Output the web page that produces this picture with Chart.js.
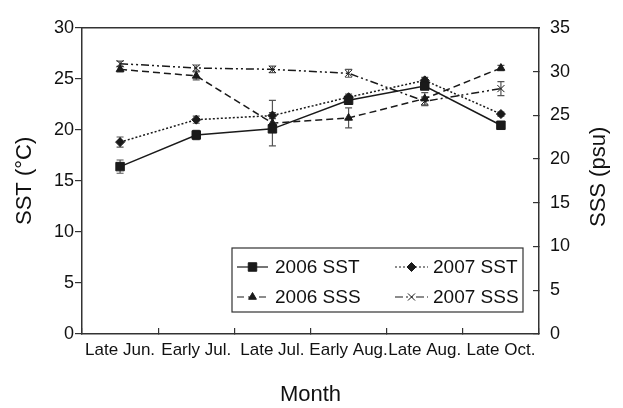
<!DOCTYPE html>
<html><head><meta charset="utf-8">
<script src="https://cdn.jsdelivr.net/npm/chart.js@4"></script>
<style>html,body{margin:0;padding:0;background:#fff}#wrap{width:623px;height:408px;position:relative}</style>
</head><body><div id="wrap"><canvas id="c"></canvas></div>
<script>
// ---- data ----
const months = ['Late Jun.', 'Early Jul.', 'Late Jul.', 'Early Aug.', 'Late Aug.', 'Late Oct.'];
const sst2006 = [16.4, 19.5, 20.1, 22.9, 24.3, 20.45];
const sst2006Err = [0.65, 0.45, 0.3, 0.35, 0.3, 0.2];
const sst2007 = [18.8, 21.0, 21.4, 23.2, 24.85, 21.55];
const sst2007Err = [0.5, 0.35, 0.3, 0.3, 0.3, 0.2];
const sss2006 = [30.25, 29.5, 24.1, 24.7, 26.9, 30.4];
const sss2006Err = [0.3, 0.45, 2.6, 1.15, 0.7, 0.3];
const sss2007 = [30.9, 30.4, 30.25, 29.8, 26.6, 28.05];
const sss2007Err = [0.3, 0.35, 0.37, 0.45, 0.5, 0.8];
const seriesNames = ['2006 SST', '2007 SST', '2006 SSS', '2007 SSS'];
const sstRange = [0, 30];
const sssRange = [0, 35];
const tickStep = 5;
const xTitle = 'Month';
const yTitle = 'SST (°C)';
const y2Title = 'SSS (psu)';

const FONT = "'Liberation Sans', Arial, Helvetica, sans-serif";
const INK = '#1a1a1a';

const errorBars = {
  id: 'errorBars',
  beforeDatasetsDraw(chart) {
    const ctx = chart.ctx;
    chart.data.datasets.forEach((ds, i) => {
      const meta = chart.getDatasetMeta(i);
      const ys = chart.scales[ds.yAxisID];
      ctx.save();
      ctx.strokeStyle = '#555';
      ctx.lineWidth = 1.2;
      meta.data.forEach((pt, j) => {
        const v = ds.data[j], e = ds.errors[j];
        const x = pt.x;
        const y1 = ys.getPixelForValue(v - e), y2 = ys.getPixelForValue(v + e);
        ctx.beginPath();
        ctx.moveTo(x, y1); ctx.lineTo(x, y2);
        ctx.moveTo(x - 3.5, y1); ctx.lineTo(x + 3.5, y1);
        ctx.moveTo(x - 3.5, y2); ctx.lineTo(x + 3.5, y2);
        ctx.stroke();
      });
      ctx.restore();
    });
  }
};

function marker(ctx, ds, x, y) {
  ctx.save();
  ctx.fillStyle = ds.pointBackgroundColor;
  ctx.strokeStyle = ds.pointBorderColor;
  ctx.lineWidth = ds.pointBorderWidth;
  ctx.setLineDash([]);
  Chart.helpers.drawPoint(ctx, {pointStyle: ds.pointStyle, radius: ds.pointRadius, rotation: 0, borderWidth: ds.pointBorderWidth}, x, y);
  ctx.restore();
}

const boxLegend = {
  id: 'boxLegend',
  afterDraw(chart) {
    const {ctx, chartArea: a} = chart;
    const L = a.left + 150, R = a.right - 16, T = a.bottom - 86, B = a.bottom - 22;
    ctx.save();
    ctx.fillStyle = '#fff';
    ctx.fillRect(L, T, R - L, B - T);
    ctx.strokeStyle = '#333';
    ctx.lineWidth = 1.2;
    ctx.strokeRect(L, T, R - L, B - T);
    const cols = [[L + 5, L + 36, L + 43], [L + 163, L + 196, L + 201]];
    const rows = [T + 19, T + 49];
    chart.data.datasets.forEach((ds, i) => {
      const c = cols[i % 2], y = rows[Math.floor(i / 2)];
      ctx.save();
      ctx.strokeStyle = ds.borderColor;
      ctx.lineWidth = 1.2;
      ctx.setLineDash(ds.borderDash || []);
      ctx.beginPath(); ctx.moveTo(c[0], y); ctx.lineTo(c[1], y); ctx.stroke();
      ctx.restore();
      marker(ctx, ds, (c[0] + c[1]) / 2, y);
      ctx.fillStyle = '#111';
      ctx.font = '19px ' + FONT;
      ctx.textAlign = 'left';
      ctx.textBaseline = 'middle';
      ctx.fillText(ds.label, c[2], y + 1);
    });
    // right axis title, reading bottom-to-top
    const s = chart.scales.y2;
    ctx.save();
    ctx.translate(s.right - 24, (a.top + a.bottom) / 2 - 4);
    ctx.rotate(-Math.PI / 2);
    ctx.fillStyle = '#111';
    ctx.font = '22px ' + FONT;
    ctx.textAlign = 'center';
    ctx.textBaseline = 'middle';
    ctx.fillText(y2Title, 0, 0);
    ctx.restore();
    ctx.restore();
  }
};

const common = {borderColor: INK, borderWidth: 1.5, pointBackgroundColor: INK, pointBorderColor: INK, pointBorderWidth: 1, tension: 0, fill: false};

new Chart(document.getElementById('c'), {
  type: 'line',
  data: {
    labels: months,
    datasets: [
      Object.assign({label: seriesNames[0], data: sst2006, errors: sst2006Err, yAxisID: 'y', pointStyle: 'rect', pointRadius: 6, borderDash: []}, common),
      Object.assign({label: seriesNames[1], data: sst2007, errors: sst2007Err, yAxisID: 'y', pointStyle: 'rectRot', pointRadius: 4.5, borderDash: [2, 2]}, common),
      Object.assign({label: seriesNames[2], data: sss2006, errors: sss2006Err, yAxisID: 'y2', pointStyle: 'triangle', pointRadius: 4.5, borderDash: [7, 4]}, common),
      Object.assign({label: seriesNames[3], data: sss2007, errors: sss2007Err, yAxisID: 'y2', pointStyle: 'crossRot', pointRadius: 5, borderDash: [8, 3, 2, 3, 2, 3]}, common)
    ]
  },
  options: {
    responsive: true,
    maintainAspectRatio: false,
    animation: false,
    events: [],
    layout: {padding: {top: 15, left: 0, right: 0, bottom: 0}},
    plugins: {legend: {display: false}, tooltip: {enabled: false}},
    scales: {
      x: {
        type: 'category', position: 'bottom', offset: true,
        grid: {offset: true, drawOnChartArea: false, drawTicks: true, tickLength: -6, color: '#333', lineWidth: 1.2},
        border: {display: true, color: '#333', width: 1.5},
        ticks: {color: '#111', font: {family: FONT, size: 17}, maxRotation: 0, minRotation: 0, autoSkip: false, padding: 12},
        title: {display: true, text: xTitle, color: '#111', font: {family: FONT, size: 22}, padding: {top: 0, bottom: 0}},
        afterFit(s) { s.height = 74; }
      },
      xTop: {
        type: 'category', position: 'top', offset: true,
        grid: {display: false, drawTicks: false},
        border: {display: true, color: '#333', width: 1.5},
        ticks: {display: false},
        afterFit(s) { s.height = 0; }
      },
      y: {
        type: 'linear', position: 'left', min: sstRange[0], max: sstRange[1],
        grid: {drawOnChartArea: false, drawTicks: true, tickLength: 7, color: '#333', lineWidth: 1.2},
        border: {display: true, color: '#333', width: 1.5},
        ticks: {stepSize: tickStep, color: '#111', font: {family: FONT, size: 18}, padding: 1},
        title: {display: true, text: yTitle, color: '#111', font: {family: FONT, size: 22}, padding: {top: 12, bottom: 0}},
        afterFit(s) { s.width = 82; }
      },
      y2: {
        type: 'linear', position: 'right', min: sssRange[0], max: sssRange[1],
        grid: {drawOnChartArea: false, drawTicks: true, tickLength: -6, color: '#333', lineWidth: 1.2},
        border: {display: true, color: '#333', width: 1.5},
        ticks: {stepSize: tickStep, color: '#111', font: {family: FONT, size: 18}, padding: 17},
        afterFit(s) { s.width = 84; }
      }
    }
  },
  plugins: [errorBars, boxLegend]
});
</script>
</body></html>
